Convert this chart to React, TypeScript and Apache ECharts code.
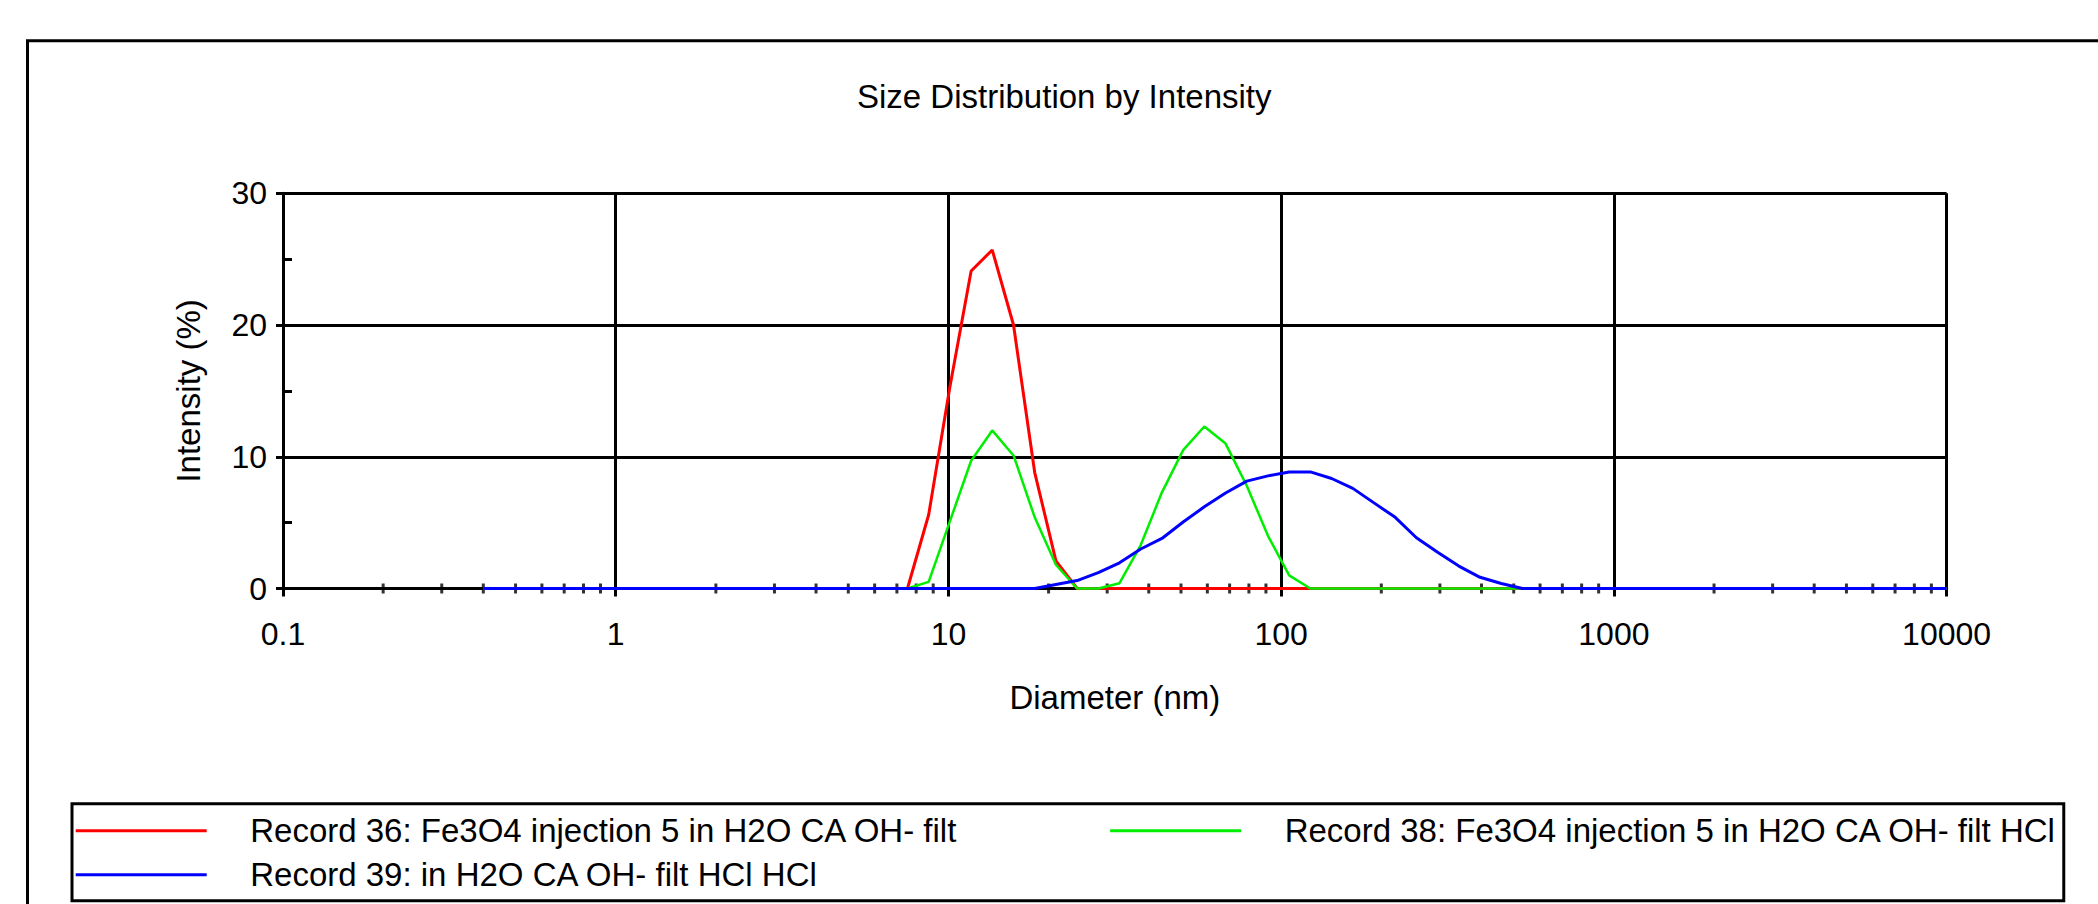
import React, { useEffect, useRef } from "react";
import * as echarts from "echarts";

// Zetasizer size classes (nm)
const sizes = [
  0.4, 0.4632, 0.5365, 0.6213, 0.7195, 0.8332, 0.9649, 1.117, 1.294, 1.499,
  1.736, 2.01, 2.328, 2.696, 3.122, 3.615, 4.187, 4.849, 5.615, 6.503,
  7.531, 8.721, 10.1, 11.7, 13.54, 15.69, 18.17, 21.04, 24.36, 28.21,
  32.67, 37.84, 43.82, 50.75, 58.77, 68.06, 78.82, 91.28, 105.7, 122.4,
  141.8, 164.2, 190.1, 220.2, 255.0, 295.3, 342.0, 396.1, 458.7, 531.2,
  615.1, 712.4, 825.0, 955.4, 1106, 1281, 1484, 1718, 1990, 2305,
  2669, 3091, 3580, 4145, 4801, 5560, 6439, 7456, 8635, 10000,
];

const record36 = [
  0, 0, 0, 0, 0, 0, 0, 0, 0, 0,
  0, 0, 0, 0, 0, 0, 0, 0, 0, 0,
  0, 5.6, 15.3, 24.1, 25.7, 20.0, 8.8, 2.1, 0, 0,
  0, 0, 0, 0, 0, 0, 0, 0, 0, 0,
  0, 0, 0, 0, 0, 0, 0, 0, 0, 0,
  0, 0, 0, 0, 0, 0, 0, 0, 0, 0,
  0, 0, 0, 0, 0, 0, 0, 0, 0, 0,
];

const record38 = [
  0, 0, 0, 0, 0, 0, 0, 0, 0, 0,
  0, 0, 0, 0, 0, 0, 0, 0, 0, 0,
  0, 0.5, 5.1, 9.7, 12.0, 10.1, 5.4, 1.8, 0, 0,
  0.4, 3.3, 7.3, 10.5, 12.3, 11.0, 7.8, 4.0, 1.0, 0,
  0, 0, 0, 0, 0, 0, 0, 0, 0, 0,
  0, 0, 0, 0, 0, 0, 0, 0, 0, 0,
  0, 0, 0, 0, 0, 0, 0, 0, 0, 0,
];

const record39 = [
  0, 0, 0, 0, 0, 0, 0, 0, 0, 0,
  0, 0, 0, 0, 0, 0, 0, 0, 0, 0,
  0, 0, 0, 0, 0, 0, 0, 0.3, 0.6, 1.2,
  1.95, 3.0, 3.8, 5.05, 6.2, 7.25, 8.15, 8.55, 8.85, 8.85,
  8.35, 7.6, 6.5, 5.4, 3.85, 2.75, 1.7, 0.85, 0.38, 0,
  0, 0, 0, 0, 0, 0, 0, 0, 0, 0,
  0, 0, 0, 0, 0, 0, 0, 0, 0, 0,
];

const seriesNames = [
  "Record 36: Fe3O4 injection 5 in H2O CA OH- filt",
  "Record 38: Fe3O4 injection 5 in H2O CA OH- filt HCl",
  "Record 39: in H2O CA OH- filt HCl HCl",
];
const seriesColors = ["#ff0000", "#00ee00", "#0000ff"];
const seriesWidths = [3, 2.5, 3];

const titleText = "Size Distribution by Intensity";
const xName = "Diameter (nm)";
const yName = "Intensity (%)";
const xMin = 0.1;
const xMax = 10000;
const yMin = 0;
const yMax = 30;
const yInterval = 10;

// minor tick positions on the log axis: 2..9 of each decade
const decades = [0.1, 1, 10, 100, 1000];
const minorMultipliers = [2, 3, 4, 5, 6, 7, 8, 9];

const FONT = "'Liberation Sans', Arial, Helvetica, sans-serif";

export default function App() {
  const ref = useRef<HTMLDivElement>(null);

  useEffect(() => {
    if (!ref.current) return;
    const chart = echarts.init(ref.current, null, { renderer: "svg" });

    const minorTicks: number[][] = [];
    decades.forEach((d) =>
      minorMultipliers.forEach((m) => minorTicks.push([+(d * m).toPrecision(6), 0]))
    );

    const curves = [record36, record38, record39].map((vals, i) => ({
      name: seriesNames[i],
      type: "line",
      data: sizes.map((s, k) => [s, vals[k]]),
      showSymbol: false,
      symbol: "none",
      clip: false,
      z: 3,
      itemStyle: { color: seriesColors[i] },
      lineStyle: { color: seriesColors[i], width: seriesWidths[i] },
      silent: true,
    }));

    const legendText = {
      fontFamily: FONT,
      fontSize: 33,
      lineHeight: 33,
      color: "#000",
      backgroundColor: "#ffffff",
      padding: [0, 0, 0, 38.5],
    };

    chart.setOption({
      animation: false,
      backgroundColor: "#ffffff",
      textStyle: { fontFamily: FONT, color: "#000" },
      title: {
        text: titleText,
        left: 857,
        top: 79.5,
        padding: 0,
        textStyle: { fontFamily: FONT, fontSize: 33, fontWeight: "normal", color: "#000" },
      },
      grid: { left: 283, top: 193.3, width: 1663.6, height: 395.2, containLabel: false },
      xAxis: {
        type: "log",
        logBase: 10,
        min: xMin,
        max: xMax,
        name: xName,
        nameLocation: "middle",
        nameGap: 92,
        nameTextStyle: { fontFamily: FONT, fontSize: 33, color: "#000" },
        axisLine: { show: true, lineStyle: { color: "#000", width: 3 } },
        axisTick: { show: true, length: 8, lineStyle: { color: "#000", width: 3 } },
        splitLine: { show: true, lineStyle: { color: "#000", width: 3 } },
        axisLabel: {
          fontFamily: FONT,
          fontSize: 32,
          color: "#000",
          margin: 29,
          formatter: (v: number) => String(parseFloat(Number(v).toPrecision(6))),
        },
      },
      yAxis: {
        type: "value",
        min: yMin,
        max: yMax,
        interval: yInterval,
        name: yName,
        nameLocation: "middle",
        nameGap: 78,
        nameTextStyle: { fontFamily: FONT, fontSize: 33, color: "#000" },
        axisLine: { show: true, lineStyle: { color: "#000", width: 3 } },
        axisTick: { show: true, length: 7, lineStyle: { color: "#000", width: 3 } },
        minorTick: { show: true, splitNumber: 2, length: -9, lineStyle: { color: "#000", width: 3 } },
        splitLine: { show: true, lineStyle: { color: "#000", width: 3 } },
        axisLabel: { fontFamily: FONT, fontSize: 32, color: "#000", margin: 16 },
      },
      legend: {
        show: true,
        left: 72,
        top: 803.7,
        orient: "horizontal",
        selectedMode: false,
        icon: "rect",
        itemWidth: 131,
        itemHeight: 3,
        itemGap: 11,
        padding: [10.5, 7, 9.5, 3.7],
        borderColor: "#000",
        borderWidth: 3,
        backgroundColor: "#fff",
        textStyle: legendText,
        data: [
          { name: seriesNames[0], textStyle: { ...legendText, padding: [0, 141, 0, 38.5] } },
          { name: seriesNames[1], textStyle: legendText },
          { name: seriesNames[2], textStyle: legendText },
        ],
      },
      graphic: [
        {
          type: "rect",
          silent: true,
          shape: { x: 27.5, y: 40.8, width: 2300, height: 1200 },
          style: { fill: "none", stroke: "#000", lineWidth: 3 },
          z: 0,
        },
      ],
      series: [
        {
          name: "minor ticks",
          type: "scatter",
          data: minorTicks,
          symbol: "rect",
          symbolSize: [3, 10],
          itemStyle: { color: "#000" },
          silent: true,
          clip: false,
          z: 1,
        },
        ...curves,
      ],
    });

    return () => chart.dispose();
  }, []);

  return (
    <div
      ref={ref}
      style={{ position: "fixed", left: 0, top: 0, width: 2098, height: 904, background: "#fff" }}
    />
  );
}
